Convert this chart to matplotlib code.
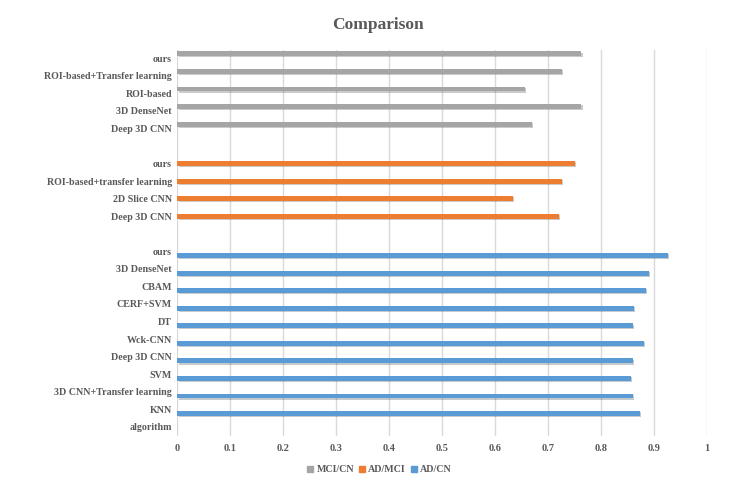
import numpy as np
import matplotlib.pyplot as plt
from matplotlib.patches import Patch
import matplotlib.patheffects as pe

plt.rcParams['font.family'] = ['Liberation Serif', 'DejaVu Serif']
plt.rcParams['font.weight'] = 'bold'

# AD/CN group (bottom), 'algorithm' row has no bar
adcn_labels = ['algorithm', 'KNN', '3D CNN+Transfer learning', 'SVM', 'Deep 3D CNN',
               'Wck-CNN', 'DT', 'CERF+SVM', 'CBAM', '3D DenseNet', 'ours']
adcn_vals = [np.nan, 0.874, 0.860, 0.857, 0.860, 0.881, 0.860, 0.862, 0.884, 0.890, 0.927]

# AD/MCI group (middle)
admci_labels = ['Deep 3D CNN', '2D Slice CNN', 'ROI-based+transfer learning', 'ours']
admci_vals = [0.721, 0.633, 0.726, 0.750]

# MCI/CN group (top)
mcicn_labels = ['Deep 3D CNN', '3D DenseNet', 'ROI-based', 'ROI-based+Transfer learning', 'ours']
mcicn_vals = [0.670, 0.763, 0.657, 0.726, 0.763]

c_gray = '#A5A5A5'
c_orange = '#ED7D31'
c_blue = '#5B9BD5'
txt = '#595959'

fig = plt.figure(figsize=(7.47, 4.83), dpi=100)
ax = fig.add_axes([0.2376, 0.0983, 0.7088, 0.7992])

# category positions, one blank row between groups
pos_adcn = np.arange(len(adcn_labels))
pos_admci = np.arange(len(admci_labels)) + pos_adcn[-1] + 2
pos_mcicn = np.arange(len(mcicn_labels)) + pos_admci[-1] + 2

h = 0.28
off = 0.25
shadow = [pe.SimplePatchShadow(offset=(0.8, -0.8), alpha=0.25), pe.Normal()]
ax.barh(pos_adcn - off, adcn_vals, height=h, color=c_blue, path_effects=shadow, zorder=3)
ax.barh(pos_admci, admci_vals, height=h, color=c_orange, path_effects=shadow, zorder=3)
ax.barh(pos_mcicn + off, mcicn_vals, height=h, color=c_gray, path_effects=shadow, zorder=3)

ticks = list(pos_adcn) + list(pos_admci) + list(pos_mcicn)
labels = adcn_labels + admci_labels + mcicn_labels
ax.set_yticks(ticks)
ax.set_yticklabels(labels, fontsize=7.2, color=txt)
ax.set_ylim(-0.5, pos_mcicn[-1] + 0.5)

ax.set_xlim(0, 1)
ax.set_xticks(np.arange(0, 1.01, 0.1))
ax.set_xticklabels(['0', '0.1', '0.2', '0.3', '0.4', '0.5', '0.6', '0.7', '0.8', '0.9', '1'],
                   fontsize=7.5, color=txt)
ax.tick_params(axis='y', length=0, pad=4)
ax.tick_params(axis='x', length=0, pad=6)
ax.grid(axis='x', color='#D9D9D9', linewidth=1, zorder=0)
for s in ax.spines.values():
    s.set_visible(False)

fig.suptitle('Comparison', x=0.506, y=0.965, fontsize=12.5, color=txt, fontweight='bold')

handles = [Patch(color=c_gray, label='MCI/CN'),
           Patch(color=c_orange, label='AD/MCI'),
           Patch(color=c_blue, label='AD/CN')]
leg = fig.legend(handles=handles, loc='center', bbox_to_anchor=(0.508, 0.027), ncol=3,
                 frameon=False, fontsize=7.2, handlelength=0.6, handleheight=0.6,
                 handletextpad=0.3, columnspacing=0.5)
for t in leg.get_texts():
    t.set_color(txt)

plt.savefig('out.png', dpi=100)
